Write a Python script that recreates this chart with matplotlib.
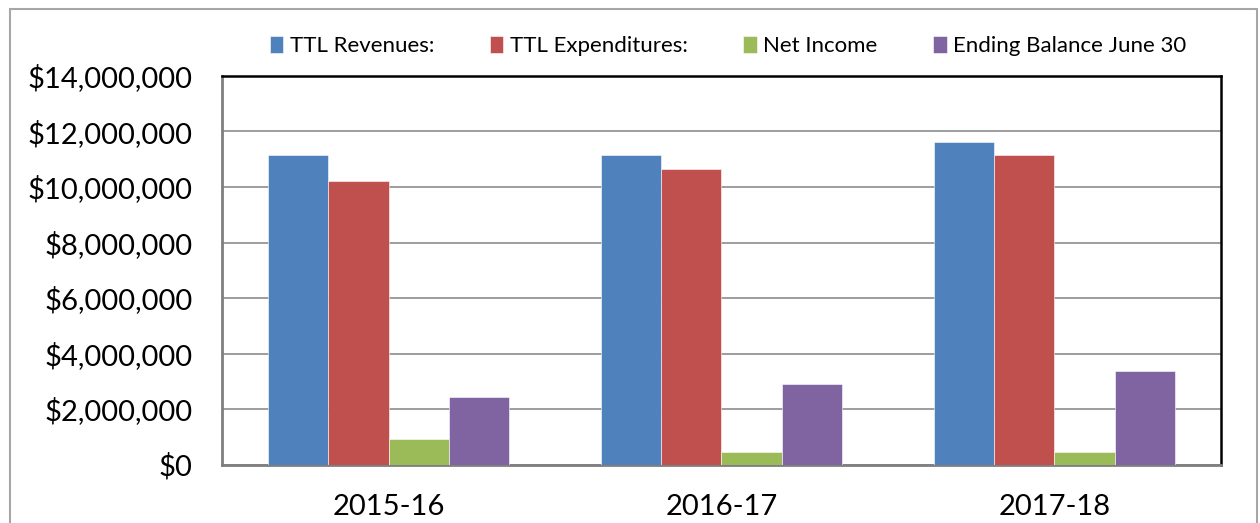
import numpy as np
import matplotlib
matplotlib.use("Agg")
import matplotlib.pyplot as plt
from matplotlib.patches import Rectangle
from matplotlib.ticker import FuncFormatter

years = ["2015-16", "2016-17", "2017-18"]
series = ["TTL Revenues:", "TTL Expenditures:", "Net Income", "Ending Balance June 30"]
revenues = [11160000, 11140000, 11620000]
expenditures = [10230000, 10660000, 11150000]
net_income = [910000, 450000, 450000]
ending_balance = [2430000, 2900000, 3380000]
colors = ["#4F81BD", "#C0504D", "#9BBB59", "#8064A2"]

plt.rcParams["font.family"] = ["Lato", "DejaVu Sans"]


def money(v, _pos):
    return f"${v:,.0f}"


fig = plt.figure(figsize=(12.6, 5.23), dpi=100)
ax = fig.add_axes([0.1762, 0.1118, 0.7928, 0.7429])

# outer chart border
fig.patches.append(Rectangle((10 / 1260, -0.1), 1247 / 1260, 1 - 9 / 523 + 0.1,
                             transform=fig.transFigure, fill=False,
                             edgecolor="#A6A6A6", linewidth=1.5))

x = np.arange(len(years))
width = 0.1816
values = [revenues, expenditures, net_income, ending_balance]
for i, (name, vals, c) in enumerate(zip(series, values, colors)):
    ax.bar(x + (i - 1.5) * width, vals, width, color=c, label=name,
           edgecolor="white", linewidth=0.4, zorder=3)

ax.set_xlim(-0.5, 2.5)
ax.set_ylim(0, 14000000)
ax.set_yticks(np.arange(0, 14000001, 2000000))
ax.yaxis.set_major_formatter(FuncFormatter(money))
ax.set_xticks(x)
ax.set_xticklabels(years)
ax.tick_params(axis="y", length=0, labelsize=21, pad=21)
ax.tick_params(axis="x", length=0, labelsize=21, pad=21)
ax.grid(axis="y", color="#8C8C8C", linewidth=1.2, zorder=0)
for side in ["top", "right"]:
    ax.spines[side].set_color("black")
    ax.spines[side].set_linewidth(1.8)
for side in ["left", "bottom"]:
    ax.spines[side].set_color("#7F7F7F")
    ax.spines[side].set_linewidth(2.0)

handles, labels = ax.get_legend_handles_labels()
fig.legend(handles, labels, loc="center", bbox_to_anchor=(0.578, 1 - 46 / 523),
           ncol=4, frameon=False, fontsize=16, handlelength=0.6,
           handleheight=0.8, handletextpad=0.3, columnspacing=2.5)

fig.savefig("out.png", dpi=100)
